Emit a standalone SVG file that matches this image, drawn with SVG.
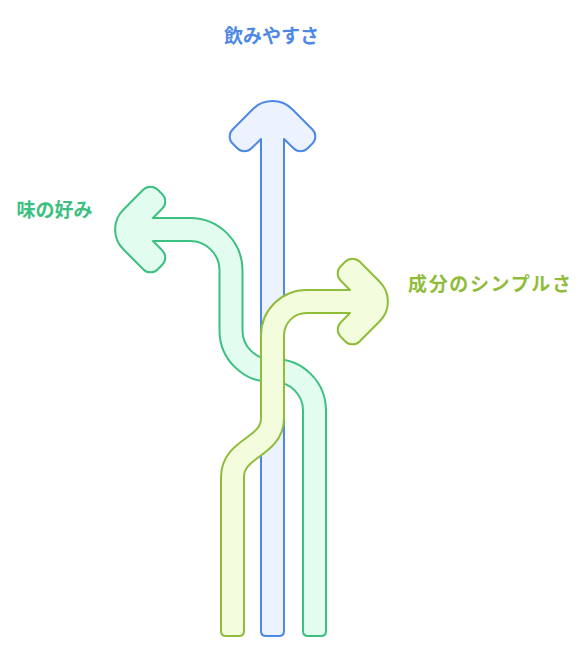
<svg xmlns="http://www.w3.org/2000/svg" width="581" height="665" viewBox="0 0 581 665">
<style>
.lbl{font-family:"Noto Sans CJK JP","Noto Sans CJK SC",sans-serif;font-weight:700;font-size:19px}
.band{fill:none;stroke-linejoin:round;stroke-linecap:butt}
.bo{stroke-width:25}
.bf{stroke-width:21}
.shape{stroke-width:2;stroke-linejoin:round}
</style>
<defs>
<path id="head" d="M -11.5,50 L -11.5,38 L -21.03,47.33 A 10 10 0 0 1 -35.17,47.33 L -39.93,42.57 A 10 10 0 0 1 -39.93,28.43 L -19.8,8.3 A 28 28 0 0 1 19.8,8.3 L 39.93,28.43 A 10 10 0 0 1 39.93,42.57 L 35.17,47.33 A 10 10 0 0 1 21.03,47.33 L 11.5,38 L 11.5,50"/>
<path id="tail" d="M -11.5,-30 V -5 Q -11.5,0 -6.5,0 H 6.5 Q 11.5,0 11.5,-5 V -30"/>
</defs>
<g id="connectors">
<g id="arrow-blue">
<path class="band bo" stroke="#4d88e6" d="M 272.5,145 V 615"/>
<path class="band bf" stroke="#ecf3fe" d="M 272.5,145 V 615"/>
<use href="#tail" class="shape" fill="#ecf3fe" stroke="#4d88e6" transform="translate(272.5,636)"/>
<use href="#head" class="shape" fill="#ecf3fe" stroke="#4d88e6" transform="translate(272.5,101)"/>
</g>
<g id="arrow-green">
<path class="band bo" stroke="#3cc07f" d="M 159,229.5 H 190 A 41 41 0 0 1 231,270.5 V 330.5 A 40 40 0 0 0 271,370.5 H 274.5 A 40 40 0 0 1 314.5,410.5 V 615"/>
<path class="band bf" stroke="#e2fcef" d="M 159,229.5 H 190 A 41 41 0 0 1 231,270.5 V 330.5 A 40 40 0 0 0 271,370.5 H 274.5 A 40 40 0 0 1 314.5,410.5 V 615"/>
<use href="#tail" class="shape" fill="#e2fcef" stroke="#3cc07f" transform="translate(314.5,636)"/>
<use href="#head" class="shape" fill="#e2fcef" stroke="#3cc07f" transform="translate(115,229.5) rotate(-90)"/>
</g>
<g id="arrow-lime">
<path class="band bo" stroke="#8fbd3a" d="M 344,301.5 H 306.5 A 34 34 0 0 0 272.5,335.5 V 418 C 272.5,448 232.5,447 232.5,477 V 615"/>
<path class="band bf" stroke="#f3fddd" d="M 344,301.5 H 306.5 A 34 34 0 0 0 272.5,335.5 V 418 C 272.5,448 232.5,447 232.5,477 V 615"/>
<use href="#tail" class="shape" fill="#f3fddd" stroke="#8fbd3a" transform="translate(232.5,636)"/>
<use href="#head" class="shape" fill="#f3fddd" stroke="#8fbd3a" transform="translate(388,301.5) rotate(90)"/>
</g>
</g>
<g id="label-drinkability"><text class="lbl" x="271.5" y="43" text-anchor="middle" fill="#4d88e6">飲みやすさ</text></g>
<g id="label-taste"><text class="lbl" x="16.5" y="217" fill="#3cc07f">味の好み</text></g>
<g id="label-simplicity"><text class="lbl" x="408" y="291" fill="#8fbd3a" textLength="163" lengthAdjust="spacing">成分のシンプルさ</text></g>
</svg>
